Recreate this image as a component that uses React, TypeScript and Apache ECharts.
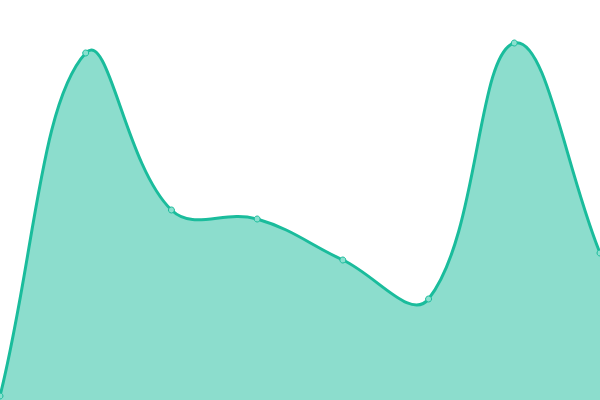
import React, { useRef, useEffect } from 'react';
import * as echarts from 'echarts';

const categories = ['A', 'B', 'C', 'D', 'E', 'F', 'G', 'H'];
const values = [4, 347, 190, 181, 140, 101, 357, 147];

const LINE_COLOR = '#1abc9c';
const TENSION = 0.4;

// spline through the points (tension style), control points capped to the plot area
function buildCurve(points: number[][], area: number[]): string {
    const [x0, y0, x1, y1] = area;
    const cap = (p: number[]) => [
        Math.min(Math.max(p[0], x0), x1),
        Math.min(Math.max(p[1], y0), y1)
    ];
    const n = points.length;
    const before: number[][] = [];
    const after: number[][] = [];
    for (let i = 0; i < n; i++) {
        const cur = points[i];
        const prev = points[i - 1] || cur;
        const next = points[i + 1] || cur;
        const d01 = Math.hypot(cur[0] - prev[0], cur[1] - prev[1]);
        const d12 = Math.hypot(next[0] - cur[0], next[1] - cur[1]);
        let s01 = d01 / (d01 + d12);
        let s12 = d12 / (d01 + d12);
        if (isNaN(s01)) s01 = 0;
        if (isNaN(s12)) s12 = 0;
        const fa = TENSION * s01;
        const fb = TENSION * s12;
        before.push(cap([cur[0] - fa * (next[0] - prev[0]), cur[1] - fa * (next[1] - prev[1])]));
        after.push(cap([cur[0] + fb * (next[0] - prev[0]), cur[1] + fb * (next[1] - prev[1])]));
    }
    let d = `M${points[0][0]},${points[0][1]}`;
    for (let i = 1; i < n; i++) {
        const a = after[i - 1];
        const b = before[i];
        d += ` C${a[0]},${a[1]} ${b[0]},${b[1]} ${points[i][0]},${points[i][1]}`;
    }
    return d;
}

const App: React.FC = () => {
    const chartRef = useRef<HTMLDivElement>(null);

    useEffect(() => {
        if (!chartRef.current) return;
        const chart = echarts.init(chartRef.current, null, { renderer: 'svg' });

        chart.setOption({
            animation: false,
            backgroundColor: '#ffffff',
            grid: { top: 0, right: 0, bottom: 0, left: 0 },
            xAxis: {
                type: 'category',
                data: categories,
                boundaryGap: false,
                show: false
            },
            yAxis: {
                type: 'value',
                min: 0,
                max: 400,
                show: false
            },
            series: [
                {
                    type: 'custom',
                    data: values,
                    z: 1,
                    renderItem: (params: any, api: any) => {
                        if (params.dataIndex !== 0) return null;
                        const pts = values.map((v, i) => api.coord([i, v]));
                        const topLeft = api.coord([0, 400]);
                        const bottomRight = api.coord([categories.length - 1, 0]);
                        const base = bottomRight[1];
                        const curve = buildCurve(pts, [topLeft[0], topLeft[1], bottomRight[0], bottomRight[1]]);
                        const last = pts[pts.length - 1];
                        const fillPath = `${curve} L${last[0]},${base} L${pts[0][0]},${base} Z`;
                        return {
                            type: 'group',
                            children: [
                                {
                                    type: 'path',
                                    shape: { pathData: fillPath },
                                    style: { fill: LINE_COLOR, opacity: 0.5, stroke: 'none' }
                                },
                                {
                                    type: 'path',
                                    shape: { pathData: curve },
                                    style: { fill: 'none', stroke: LINE_COLOR, lineWidth: 3 }
                                }
                            ]
                        };
                    }
                },
                {
                    type: 'scatter',
                    data: values,
                    z: 3,
                    symbol: 'circle',
                    symbolSize: 6,
                    itemStyle: {
                        color: '#8ae0cf',
                        borderColor: LINE_COLOR,
                        borderWidth: 1,
                        opacity: 1
                    }
                }
            ]
        });

        return () => {
            chart.dispose();
        };
    }, []);

    return (
        <div
            ref={chartRef}
            style={{ position: 'fixed', top: 0, left: 0, width: 600, height: 400 }}
        />
    );
};

export default App;
